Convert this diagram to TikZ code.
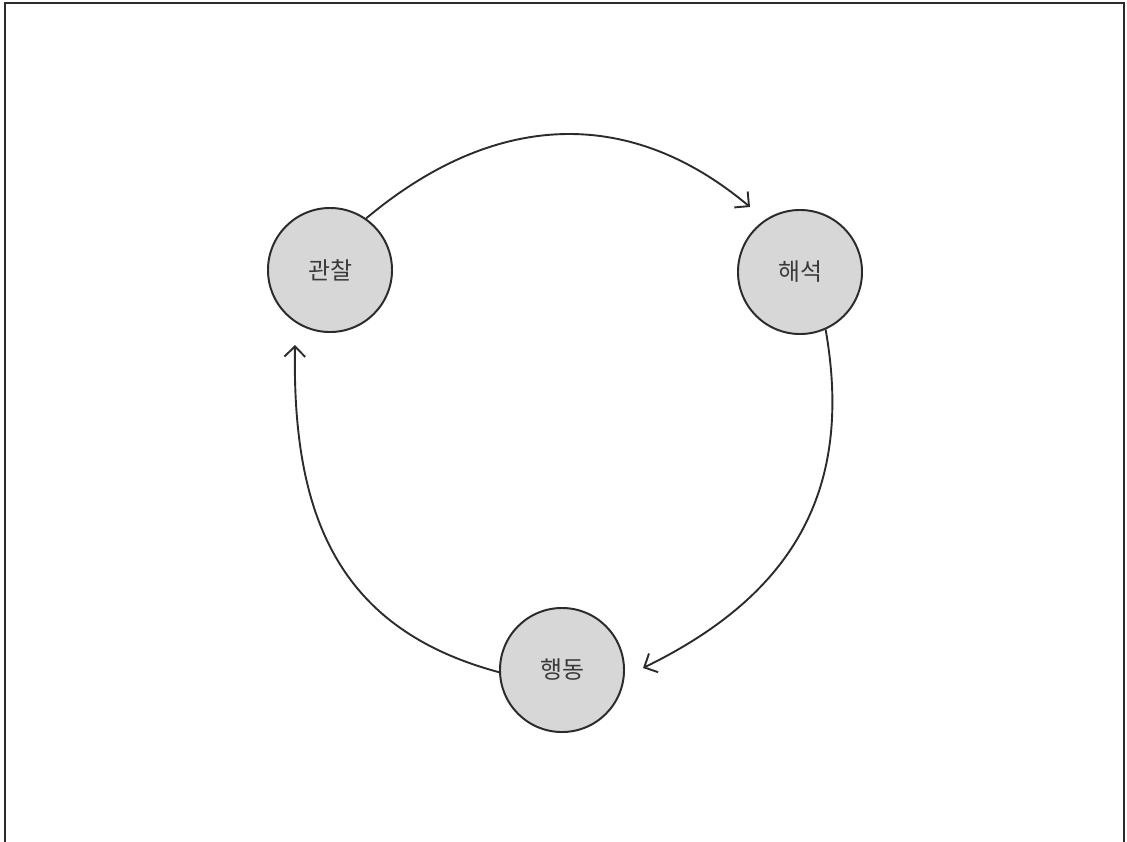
\documentclass[tikz,border=0pt]{standalone}
\usepackage{fontspec}
\usepackage{tikz}
\usetikzlibrary{arrows.meta}
\setmainfont{Noto Sans CJK KR}
\definecolor{StageFill}{HTML}{D7D7D7}
\definecolor{Ink}{HTML}{2B2B2B}
\definecolor{LabelInk}{HTML}{3A3A3A}

\begin{document}
\begin{tikzpicture}[x=0.025cm, y=-0.025cm, >={Straight Barb[length=2.6mm,width=5.2mm]},
    stage/.style={circle, draw=Ink, line width=1.4pt, fill=StageFill, minimum size=3.1cm,
        inner sep=0pt, text=LabelInk, font=\fontsize{17}{20}\selectfont},
    cycle/.style={->, draw=Ink, line width=1.35pt}]
    \useasboundingbox (0,0) rectangle (1127,842);
    \draw[line width=2pt, Ink] (5,842) -- (5,3) -- (1124,3) -- (1124,842);

    \node[stage] (obs) at (330,270) {관찰};
    \node[stage] (intp) at (800,272) {해석};
    \node[stage] (act) at (562,670) {행동};

    \coordinate (tipa) at (750,207);
    \coordinate (tipb) at (643,668);
    \coordinate (tipc) at (295,345);

    \draw[cycle] (obs.55) to[out=40, in=140, looseness=1.08] (tipa);
    \draw[cycle] (intp.-66) to[out=-80, in=26, looseness=1.1] (tipb);
    \draw[cycle] (act.182) to[out=165, in=-91, looseness=1.12] (tipc);
\end{tikzpicture}
\end{document}
